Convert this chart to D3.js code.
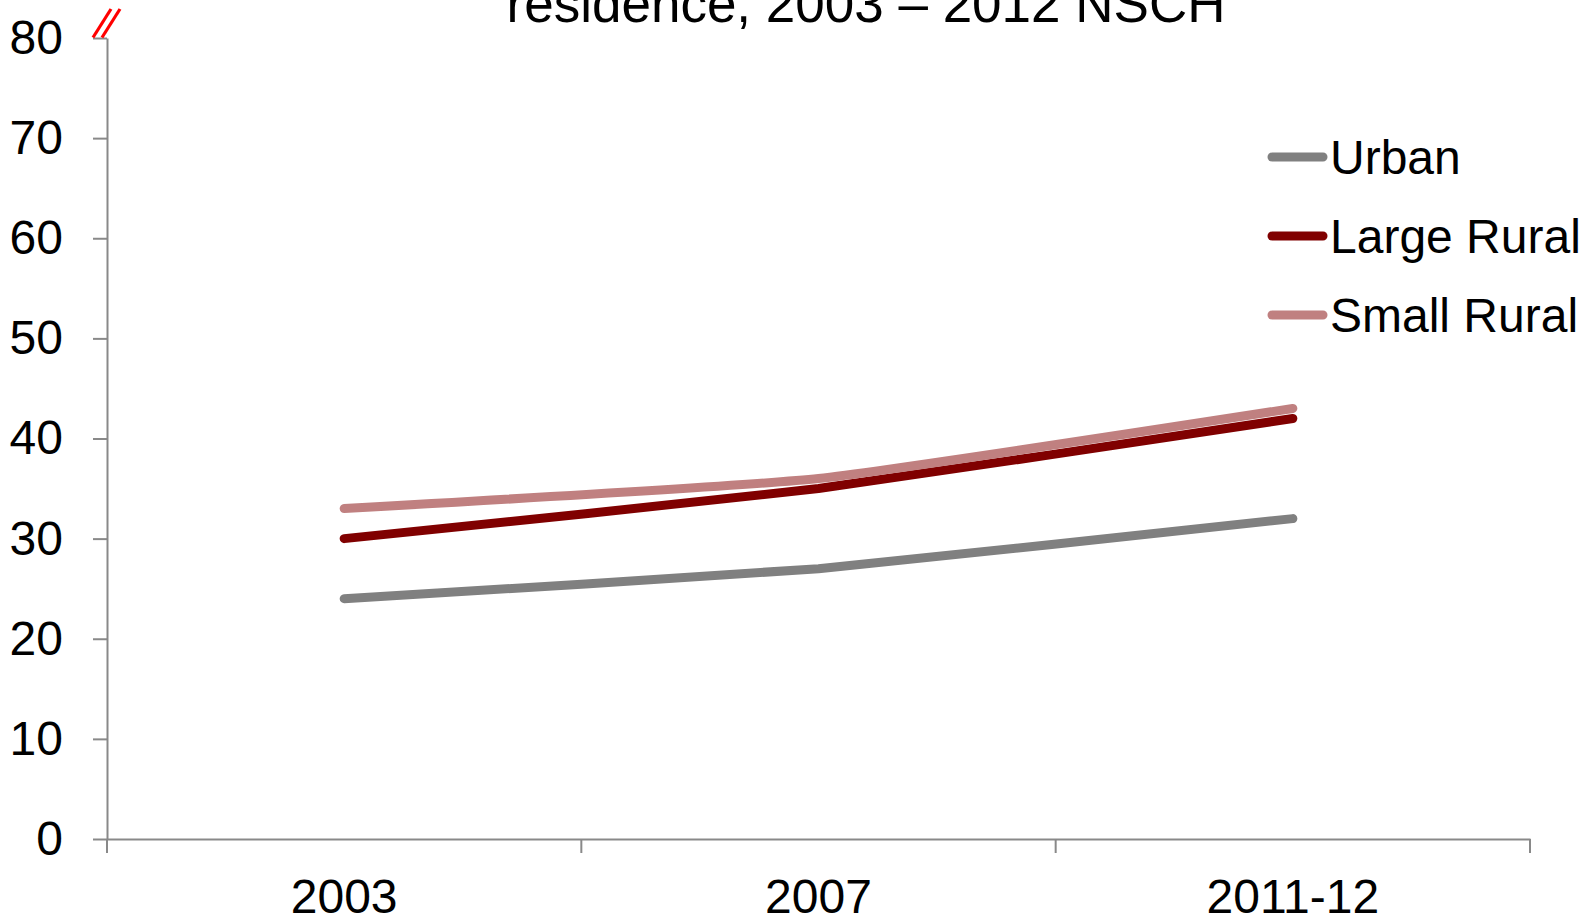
<!DOCTYPE html>
<html>
<head>
<meta charset="utf-8">
<script src="https://cdn.jsdelivr.net/npm/d3@7"></script>
<style>
  html, body { margin: 0; padding: 0; background: #fff; overflow: hidden; }
  svg { display: block; font-family: "Liberation Sans", Arial, sans-serif; }
</style>
</head>
<body>
<svg id="chart" width="1589" height="916"></svg>
<script>
// Survey years and percentage values by place of residence
const years = ["2003", "2007", "2011-12"];
const urban = [24, 27, 32];
const largeRural = [30, 35, 42];
const smallRural = [33, 36, 43];
const yTicks = [0, 10, 20, 30, 40, 50, 60, 70, 80];
const seriesNames = ["Urban", "Large Rural", "Small Rural"];
const seriesColors = ["#808080", "#800000", "#C08080"];
const titleLine = "residence, 2003 \u2013 2012 NSCH";

(function () {
  const series = [urban, largeRural, smallRural].map((vals, i) => ({
    name: seriesNames[i], color: seriesColors[i], values: vals
  }));

  const svg = d3.select("#chart");
  const plotLeft = 107, plotRight = 1530, plotTop = 38, plotBottom = 839;
  const axisColor = "#898989";
  const fontSize = 48;

  const x = d3.scaleBand().domain(years).range([plotLeft, plotRight]).padding(0);
  const y = d3.scaleLinear().domain([0, 80]).range([plotBottom, plotTop]);

  // Title (second line of the heading)
  svg.append("text")
    .attr("x", 866).attr("y", 22)
    .attr("text-anchor", "middle")
    .attr("font-size", 53)
    .attr("fill", "#000")
    .text(titleLine);

  // Y axis
  const yAxis = svg.append("g")
    .attr("transform", `translate(${plotLeft},0)`)
    .call(d3.axisLeft(y).tickValues(yTicks).tickSize(14).tickSizeOuter(0).tickPadding(30));
  yAxis.select(".domain").attr("stroke", axisColor).attr("stroke-width", 2);
  yAxis.selectAll(".tick line").attr("stroke", axisColor).attr("stroke-width", 2);
  yAxis.selectAll(".tick text")
    .attr("font-size", fontSize).attr("font-family", "Liberation Sans, Arial, sans-serif")
    .attr("fill", "#000");

  // X axis: labels centred in each category band
  const xAxis = svg.append("g")
    .attr("transform", `translate(0,${plotBottom})`)
    .call(d3.axisBottom(x).tickSize(0).tickSizeOuter(0).tickPadding(40));
  xAxis.select(".domain").attr("stroke", axisColor).attr("stroke-width", 2);
  xAxis.selectAll(".tick text")
    .attr("font-size", fontSize).attr("font-family", "Liberation Sans, Arial, sans-serif")
    .attr("fill", "#000");

  // Tick marks on category boundaries
  const boundaries = years.map(c => x(c)).concat([x(years[years.length - 1]) + x.bandwidth()]);
  svg.append("g").selectAll("line")
    .data(boundaries)
    .join("line")
    .attr("x1", d => d).attr("x2", d => d)
    .attr("y1", plotBottom).attr("y2", plotBottom + 14)
    .attr("stroke", axisColor).attr("stroke-width", 2);

  // Axis break marks at the top of the value axis
  svg.append("g").selectAll("line")
    .data([0, 9])
    .join("line")
    .attr("x1", d => plotLeft - 14 + d).attr("y1", y(80) - 0.5)
    .attr("x2", d => plotLeft + 4 + d).attr("y2", y(80) - 29)
    .attr("stroke", "#FF0000").attr("stroke-width", 3.2);

  // Series lines, lightly smoothed
  const line = d3.line()
    .x((d, i) => x(years[i]) + x.bandwidth() / 2)
    .y(d => y(d))
    .curve(d3.curveCardinal.tension(0.6));

  svg.append("g").selectAll("path")
    .data(series)
    .join("path")
    .attr("d", d => line(d.values))
    .attr("fill", "none")
    .attr("stroke", d => d.color)
    .attr("stroke-width", 9)
    .attr("stroke-linecap", "round")
    .attr("stroke-linejoin", "round");

  // Legend
  const legend = svg.append("g");
  const legendY = [157, 236, 315];
  series.forEach((s, i) => {
    legend.append("line")
      .attr("x1", 1272).attr("x2", 1323)
      .attr("y1", legendY[i]).attr("y2", legendY[i])
      .attr("stroke", s.color).attr("stroke-width", 9)
      .attr("stroke-linecap", "round");
    legend.append("text")
      .attr("x", 1330).attr("y", legendY[i])
      .attr("dy", "0.35em")
      .attr("font-size", fontSize)
      .attr("fill", "#000")
      .text(s.name);
  });
})();
</script>
</body>
</html>
